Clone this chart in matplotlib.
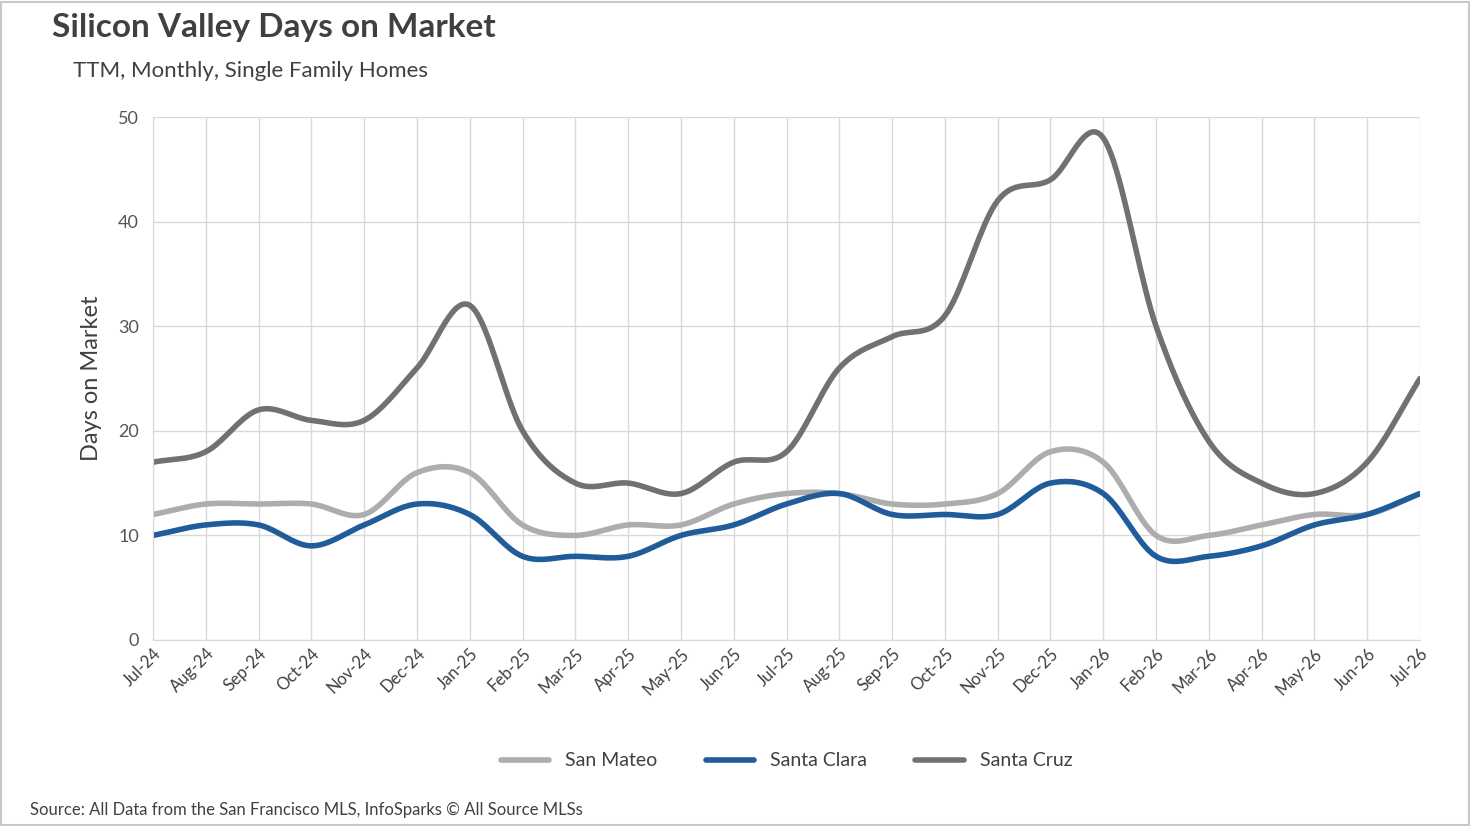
import numpy as np
import matplotlib
matplotlib.use("Agg")
import matplotlib.pyplot as plt
from matplotlib.patches import Rectangle

plt.rcParams['font.family'] = ['Lato', 'DejaVu Sans']

months = ["Jul-24", "Aug-24", "Sep-24", "Oct-24", "Nov-24", "Dec-24", "Jan-25", "Feb-25",
          "Mar-25", "Apr-25", "May-25", "Jun-25", "Jul-25", "Aug-25", "Sep-25", "Oct-25",
          "Nov-25", "Dec-25", "Jan-26", "Feb-26", "Mar-26", "Apr-26", "May-26", "Jun-26", "Jul-26"]
san_mateo = [12, 13, 13, 13, 12, 16, 16, 11, 10, 11, 11, 13, 14, 14, 13, 13, 14, 18, 17, 10, 10, 11, 12, 12, 14]
santa_clara = [10, 11, 11, 9, 11, 13, 12, 8, 8, 8, 10, 11, 13, 14, 12, 12, 12, 15, 14, 8, 8, 9, 11, 12, 14]
santa_cruz = [17, 18, 22, 21, 21, 26, 32, 20, 15, 15, 14, 17, 18, 26, 29, 31, 42, 44, 48, 30, 19, 15, 14, 17, 25]


def smooth(y, n=20):
    # Catmull-Rom curve through the points, like Excel's smoothed line
    y = np.asarray(y, float)
    p = np.concatenate([[2 * y[0] - y[1]], y, [2 * y[-1] - y[-2]]])
    xs, ys = [], []
    t = np.linspace(0, 1, n, endpoint=False)
    for i in range(len(y) - 1):
        p0, p1, p2, p3 = p[i], p[i + 1], p[i + 2], p[i + 3]
        seg = 0.5 * ((2 * p1) + (-p0 + p2) * t + (2 * p0 - 5 * p1 + 4 * p2 - p3) * t ** 2
                     + (-p0 + 3 * p1 - 3 * p2 + p3) * t ** 3)
        xs.extend(i + t)
        ys.extend(seg)
    xs.append(len(y) - 1)
    ys.append(y[-1])
    return np.array(xs), np.array(ys)


fig = plt.figure(figsize=(14.7, 8.26), dpi=100)
fig.patches.append(Rectangle((0.001, 0.001), 0.998, 0.997, transform=fig.transFigure,
                             fill=False, edgecolor='#c8c8c8', linewidth=1.5))
ax = fig.add_axes([153 / 1470, 1 - 640 / 826, (1420 - 153) / 1470, (640 - 117) / 826])

series = [("San Mateo", san_mateo, '#adadad'),
          ("Santa Clara", santa_clara, '#1f5c99'),
          ("Santa Cruz", santa_cruz, '#717171')]
for name, vals, c in series:
    xs, ys = smooth(vals)
    ax.plot(xs, ys, color=c, linewidth=4, label=name, solid_capstyle='round')

ax.set_xlim(0, len(months) - 1)
ax.set_ylim(0, 50)
ax.set_yticks(range(0, 51, 10))
ax.set_xticks(range(len(months)))
ax.set_xticklabels(months, rotation=45, ha='right', rotation_mode='anchor', fontsize=12, color='#404040')
ax.tick_params(axis='y', labelsize=13, colors='#555555', length=0, pad=10)
ax.tick_params(axis='x', length=0, pad=4)
ax.grid(True, color='#d9d9d9', linewidth=1)
ax.set_axisbelow(True)
for s in ['top', 'right']:
    ax.spines[s].set_visible(False)
ax.spines['left'].set_color('#d9d9d9')
ax.spines['bottom'].set_color('#d9d9d9')
ax.set_ylabel("Days on Market", fontsize=17, color='#404040', labelpad=12)

fig.text(52 / 1470, 1 - 28 / 826, "Silicon Valley Days on Market", fontsize=24, fontweight='bold',
         color='#404040', va='center')
fig.text(73 / 1470, 1 - 71 / 826, "TTM, Monthly, Single Family Homes", fontsize=16,
         color='#404040', va='center')
fig.text(30 / 1470, 1 - 810 / 826, "Source: All Data from the San Francisco MLS, InfoSparks © All Source MLSs",
         fontsize=12, color='#404040', va='center')
fig.legend(loc='center', bbox_to_anchor=(0.535, 1 - 761 / 826), ncol=3, frameon=False,
           fontsize=14, handlelength=2.5, columnspacing=2.5, labelcolor='#404040')

fig.savefig("out.png", dpi=100)
